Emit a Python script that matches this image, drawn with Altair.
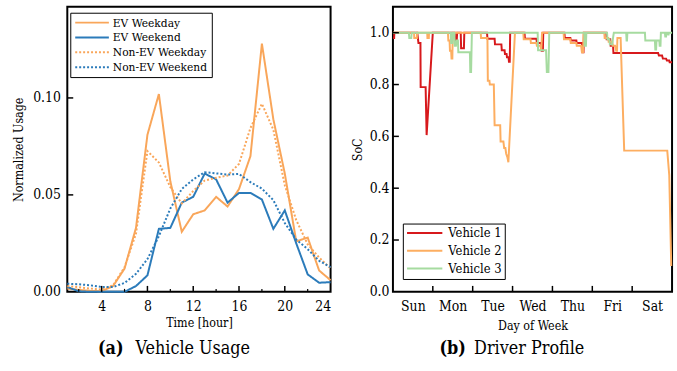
import altair as alt
import pandas as pd

# ---------------- data: (a) Vehicle Usage ----------------
hours = list(range(1, 25))
ev_weekday = [0.0017, 0.001, 0.0005, 0.0003, 0.003, 0.012, 0.033, 0.081, 0.102, 0.057, 0.031, 0.040,
              0.042, 0.049, 0.044, 0.053, 0.070, 0.128, 0.089, 0.061, 0.026, 0.028, 0.011, 0.006]
ev_weekend = [0.0025, 0.0003, 0.0, 0.0, 0.0, 0.0, 0.003, 0.0085, 0.0325, 0.033, 0.046, 0.049,
              0.061, 0.058, 0.046, 0.051, 0.051, 0.0476, 0.0325, 0.042, 0.025, 0.009, 0.0047, 0.005]
nonev_weekday = [0.003, 0.0024, 0.0017, 0.0012, 0.0034, 0.0127, 0.030, 0.0726, 0.0667, 0.054, 0.0456, 0.052,
                 0.0574, 0.0588, 0.060, 0.066, 0.0845, 0.097, 0.0836, 0.055, 0.037, 0.0245, 0.0177, 0.012]
nonev_weekend = [0.0042, 0.0039, 0.0034, 0.0025, 0.0025, 0.0046, 0.0093, 0.0169, 0.0287, 0.043, 0.053, 0.058,
                 0.0617, 0.0611, 0.0605, 0.0608, 0.0566, 0.0532, 0.0473, 0.0355, 0.027, 0.022, 0.016, 0.0127]
usage_series = ["EV Weekday", "EV Weekend", "Non-EV Weekday", "Non-EV Weekend"]
hour_labels = [4, 8, 12, 16, 20, 24]
hour_major_ticks = [4, 8, 12, 16, 20]
hour_minor_ticks = [2, 6, 10, 14, 18, 22]
usage_ticks = [0.05, 0.10]

# ---------------- data: (b) Driver Profile ----------------
v1_day = [0, 0.03, 0.035, 0.61, 0.64, 0.69, 0.695, 0.82, 0.845, 1.0, 1.55, 1.56, 1.6, 1.61, 1.7, 1.71, 1.78, 1.79,
          2.36, 2.37, 2.55, 2.56, 2.72, 2.73, 2.8, 2.81, 2.85, 2.86, 2.9, 2.91, 2.93, 2.94,
          3.30, 3.31, 3.6, 3.61, 3.72, 3.73, 3.76, 3.77, 4.3, 4.31, 4.45, 4.46, 4.6, 4.61, 4.74, 4.75, 4.78, 4.79,
          5.35, 5.36, 5.45, 5.46, 5.52, 5.53, 6.65, 6.67, 6.75, 6.77, 6.85, 6.87, 6.93, 6.94, 7.0]
v1_soc = [0.98, 0.98, 1.0, 1.0, 0.96, 0.96, 0.79, 0.79, 0.605, 1.0, 1.0, 0.97, 0.97, 1.0, 1.0, 0.94, 0.94, 1.0,
          1.0, 0.977, 0.977, 0.955, 0.955, 0.932, 0.932, 0.918, 0.918, 0.905, 0.905, 0.888, 0.888, 1.0,
          1.0, 0.977, 0.977, 0.96, 0.96, 0.93, 0.93, 1.0, 1.0, 0.98, 0.98, 0.97, 0.97, 0.96, 0.96, 0.925, 0.925, 1.0,
          1.0, 0.975, 0.975, 0.95, 0.95, 0.922, 0.922, 0.912, 0.912, 0.9, 0.9, 0.893, 0.893, 0.886, 0.886]

v2_day = [0, 0.53, 0.535, 0.6, 0.605, 0.86, 0.865, 0.9, 0.905, 1.38, 1.39, 1.42, 1.43, 1.46, 1.47, 1.49, 1.5,
          2.2, 2.21, 2.37, 2.38, 2.42, 2.43, 2.53, 2.55, 2.69, 2.7, 2.77, 2.79, 2.82, 2.84, 2.87, 2.895, 3.06,
          3.27, 3.28, 3.45, 3.46, 3.6, 3.61, 3.7, 3.72, 3.74, 4.28, 4.29, 4.45, 4.46, 4.6, 4.61, 4.72, 4.74, 4.77, 4.78,
          5.3, 5.31, 5.4, 5.41, 5.5, 5.51, 5.57, 5.6, 5.62, 5.63, 5.71, 5.80, 6.88, 6.93, 6.98]
v2_soc = [1.0, 1.0, 0.98, 0.98, 1.0, 1.0, 0.98, 0.98, 1.0, 1.0, 0.97, 0.97, 0.93, 0.93, 0.90, 0.90, 1.0,
          1.0, 0.98, 0.98, 0.815, 0.815, 0.80, 0.80, 0.643, 0.643, 0.58, 0.58, 0.555, 0.555, 0.533, 0.52, 0.50, 1.0,
          1.0, 0.975, 0.975, 0.96, 0.96, 0.95, 0.95, 0.93, 1.0, 1.0, 0.975, 0.975, 0.96, 0.96, 0.95, 0.95, 0.925, 0.925, 1.0,
          1.0, 0.98, 0.98, 0.965, 0.965, 0.95, 0.95, 0.93, 0.93, 0.98, 0.98, 0.545, 0.545, 0.45, 0.10]

v3_day = [0, 0.4, 0.41, 0.46, 0.47, 1.45, 1.46, 1.49, 1.5, 1.54, 1.55, 1.58, 1.6, 1.63, 1.64, 1.93, 1.94, 1.96, 1.98,
          3.63, 3.64, 3.84, 3.86, 3.9, 3.92, 4.8, 4.81, 4.84, 4.85,
          5.37, 5.38, 5.43, 5.44, 5.5, 5.52, 5.54, 5.85, 5.86, 5.87, 5.88,
          6.32, 6.33, 6.57, 6.58, 6.6, 6.61, 6.68, 6.69, 6.71, 6.72, 6.82, 6.83, 6.85, 6.86, 6.9, 6.91, 6.92, 7.0]
v3_soc = [1.0, 1.0, 0.98, 0.98, 1.0, 1.0, 0.96, 0.96, 1.0, 1.0, 0.95, 0.95, 0.97, 0.97, 0.925, 0.925, 0.848, 0.848, 1.0,
          1.0, 0.932, 0.932, 0.848, 0.848, 1.0, 1.0, 0.95, 0.95, 1.0,
          1.0, 0.975, 0.975, 0.955, 0.955, 0.98, 1.0, 1.0, 0.97, 0.97, 1.0,
          1.0, 0.97, 0.97, 0.935, 0.935, 0.97, 0.97, 0.95, 0.95, 1.0, 1.0, 0.985, 0.985, 1.0, 1.0, 0.99, 1.0, 1.0]

vehicle_names = ["Vehicle 1", "Vehicle 2", "Vehicle 3"]
day_names = ["Sun", "Mon", "Tue", "Wed", "Thu", "Fri", "Sat"]
day_label_pos = [0.5, 1.5, 2.5, 3.5, 4.5, 5.5, 6.5]
day_ticks = [1, 2, 3, 4, 5, 6]
soc_labels = [0.0, 0.2, 0.4, 0.6, 0.8, 1.0]
soc_ticks = [0.2, 0.4, 0.6, 0.8, 1.0]

captions_a = ["(a)", "Vehicle Usage"]
captions_b = ["(b)", "Driver Profile"]

# ---------------- style ----------------
FONT = "DejaVu Serif Condensed, DejaVu Serif"
ORANGE = "#f9a65a"
BLUE = "#2b7bba"
RED = "#d7191c"
ORANGE2 = "#fdae61"
GREEN = "#a6dba0"
W1, W2, H = 266, 282, 288
LINE_SYMBOL = "M-1,0H5.8"

# ---------------- tables ----------------
rows = []
for name, vals in zip(usage_series, [ev_weekday, ev_weekend, nonev_weekday, nonev_weekend]):
    for h, v in zip(hours, vals):
        rows.append({"hour": h, "usage": v, "series": name})
usage_df = pd.DataFrame(rows)

rows = []
for name, ds, ss in zip(vehicle_names, [v1_day, v2_day, v3_day], [v1_soc, v2_soc, v3_soc]):
    for i, (d, s) in enumerate(zip(ds, ss)):
        rows.append({"day": d, "soc": s, "vehicle": name, "idx": i})
soc_df = pd.DataFrame(rows)

# ---------------- (a) ----------------
xs1 = alt.Scale(domain=[1, 24], nice=False, zero=False)
ys1 = alt.Scale(domain=[0, 0.147], nice=False)

leg1 = alt.Legend(title=None, orient="none", legendX=3, legendY=6, symbolType=LINE_SYMBOL,
                  symbolSize=100, symbolStrokeWidth=2, labelFont=FONT, labelFontSize=12,
                  labelColor="black", strokeColor="black", fillColor="white", padding=4,
                  rowPadding=3, labelOffset=27, symbolOpacity=1)

lines1 = alt.Chart(usage_df).mark_line(strokeWidth=2).encode(
    x=alt.X("hour:Q", scale=xs1, axis=alt.Axis(values=hour_labels, title="Time [hour]",
                                                 labelPadding=8, titlePadding=3)),
    y=alt.Y("usage:Q", scale=ys1, axis=alt.Axis(values=[0, 0.05, 0.10], format=".2f",
                                                  title="Normalized Usage", labelPadding=7, titlePadding=7)),
    color=alt.Color("series:N", scale=alt.Scale(domain=usage_series, range=[ORANGE, BLUE, ORANGE, BLUE]),
                    legend=leg1),
    strokeDash=alt.StrokeDash("series:N", scale=alt.Scale(domain=usage_series,
                                                          range=[[1, 0], [1, 0], [2, 2], [2, 2]]),
                              legend=leg1),
)

xmaj1 = alt.Chart(pd.DataFrame({"hour": hour_major_ticks})).mark_rule(color="black", strokeWidth=1.5).encode(
    x=alt.X("hour:Q", scale=xs1), y=alt.value(H), y2=alt.value(H - 6))
xmin1 = alt.Chart(pd.DataFrame({"hour": hour_minor_ticks})).mark_rule(color="black", strokeWidth=1.2).encode(
    x=alt.X("hour:Q", scale=xs1), y=alt.value(H), y2=alt.value(H - 3))
yt1 = alt.Chart(pd.DataFrame({"usage": usage_ticks})).mark_rule(color="black", strokeWidth=1.5).encode(
    y=alt.Y("usage:Q", scale=ys1), x=alt.value(0), x2=alt.value(6))

cap_a1 = alt.Chart(pd.DataFrame({"t": [captions_a[0]]})).mark_text(
    font=FONT, fontSize=18, fontWeight="bold", align="left", baseline="alphabetic", color="black").encode(
    text="t:N", x=alt.value(31), y=alt.value(351))
cap_a2 = alt.Chart(pd.DataFrame({"t": [captions_a[1]]})).mark_text(
    font=FONT, fontSize=18, align="left", baseline="alphabetic", color="black").encode(
    text="t:N", x=alt.value(69), y=alt.value(351))

left = alt.layer(lines1, xmaj1, xmin1, yt1, cap_a1, cap_a2).properties(width=W1, height=H)

# ---------------- (b) ----------------
xs2 = alt.Scale(domain=[0, 7], nice=False, zero=False)
ys2 = alt.Scale(domain=[0, 1.1], nice=False)

leg2 = alt.Legend(title=None, orient="none", legendX=10, legendY=219, symbolType=LINE_SYMBOL,
                  symbolSize=110, symbolStrokeWidth=2, labelFont=FONT, labelFontSize=13,
                  labelColor="black", strokeColor="black", fillColor="white", padding=3,
                  rowPadding=4, labelOffset=30, symbolOpacity=1)

lines2 = alt.Chart(soc_df).mark_line(strokeWidth=2).encode(
    x=alt.X("day:Q", scale=xs2, axis=alt.Axis(values=day_label_pos, title="Day of Week",
                                                labelExpr="['Sun','Mon','Tue','Wed','Thu','Fri','Sat'][floor(datum.value)]",
                                                labelPadding=8, titlePadding=6)),
    y=alt.Y("soc:Q", scale=ys2, axis=alt.Axis(values=soc_labels, format=".1f", title="SoC",
                                                labelPadding=4, titlePadding=5)),
    color=alt.Color("vehicle:N", scale=alt.Scale(domain=vehicle_names, range=[RED, ORANGE2, GREEN]),
                    legend=leg2),
    order="idx:Q",
)

xt2 = alt.Chart(pd.DataFrame({"day": day_ticks})).mark_rule(color="black", strokeWidth=1.5).encode(
    x=alt.X("day:Q", scale=xs2), y=alt.value(H), y2=alt.value(H - 6))
yt2 = alt.Chart(pd.DataFrame({"soc": soc_ticks})).mark_rule(color="black", strokeWidth=1.5).encode(
    y=alt.Y("soc:Q", scale=ys2), x=alt.value(0), x2=alt.value(6))

cap_b1 = alt.Chart(pd.DataFrame({"t": [captions_b[0]]})).mark_text(
    font=FONT, fontSize=18, fontWeight="bold", align="left", baseline="alphabetic", color="black").encode(
    text="t:N", x=alt.value(47), y=alt.value(351))
cap_b2 = alt.Chart(pd.DataFrame({"t": [captions_b[1]]})).mark_text(
    font=FONT, fontSize=18, align="left", baseline="alphabetic", color="black").encode(
    text="t:N", x=alt.value(82), y=alt.value(351))

right = alt.layer(lines2, xt2, yt2, cap_b1, cap_b2).properties(width=W2, height=H)

chart = alt.hconcat(left, right, spacing=14).resolve_scale(
    color="independent", strokeDash="independent"
).resolve_legend(
    color="independent", strokeDash="independent"
).configure(
    padding={"left": 11, "top": 4, "right": 0, "bottom": 0},
).configure_view(
    stroke="black", strokeWidth=2
).configure_axis(
    domain=False, ticks=False, grid=False,
    labelFont=FONT, labelFontSize=14, labelColor="black",
    titleFont=FONT, titleFontSize=12.5, titleFontWeight="normal", titleColor="black",
)

chart.save("out.html", embed_options={"renderer": "svg", "actions": False})
